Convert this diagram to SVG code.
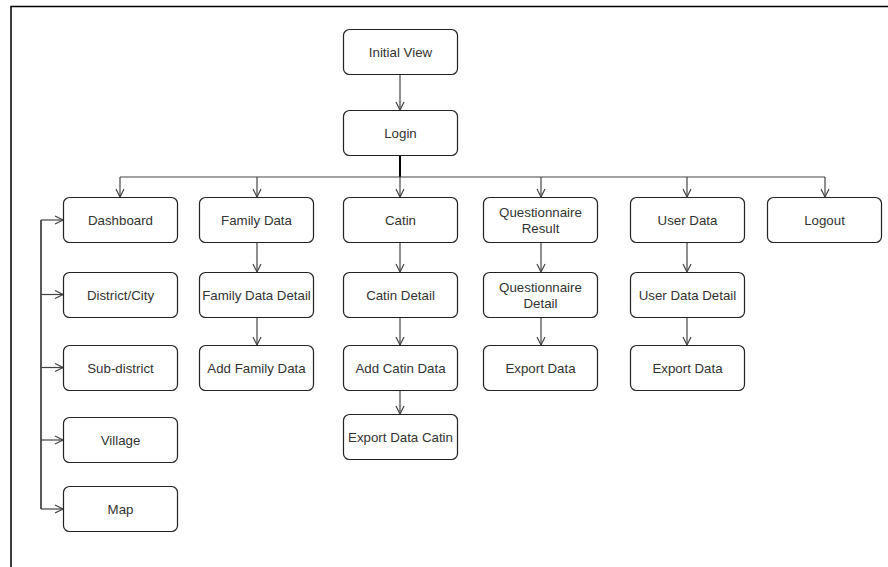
<svg xmlns="http://www.w3.org/2000/svg" width="888" height="567" viewBox="0 0 888 567">
<defs>
<marker id="open" viewBox="0 0 10 10" refX="9" refY="5" markerWidth="10" markerHeight="10" markerUnits="userSpaceOnUse" orient="auto">
<path d="M1,1 L9,5 L1,9" fill="none" stroke="#444" stroke-width="1.2"/>
</marker>
<style>
.box{fill:#fff;stroke:#222;stroke-width:1.2}
.t{font-family:"Liberation Sans",Arial,sans-serif;font-size:13.3px;fill:#333;text-anchor:middle;dominant-baseline:central}
.c{fill:none;stroke:#444;stroke-width:1.2}
.a{marker-end:url(#open)}
</style>
</defs>
<rect x="0" y="0" width="888" height="567" fill="#fff"/>
<path d="M11,567 V6.5 H888" fill="none" stroke="#000" stroke-width="1.5"/>

<g id="connectors">
<line class="c a" x1="400" y1="74" x2="400" y2="110"/>
<line x1="400" y1="156" x2="400" y2="177" stroke="#000" stroke-width="2"/>
<line class="c" x1="120" y1="177" x2="825" y2="177"/>
<line class="c a" x1="120" y1="177" x2="120" y2="197"/>
<line class="c a" x1="257" y1="177" x2="257" y2="197"/>
<line class="c a" x1="400" y1="177" x2="400" y2="197"/>
<line class="c a" x1="541" y1="177" x2="541" y2="197"/>
<line class="c a" x1="687" y1="177" x2="687" y2="197"/>
<line class="c a" x1="825" y1="177" x2="825" y2="197"/>
<line class="c a" x1="257" y1="242" x2="257" y2="272"/>
<line class="c a" x1="257" y1="317" x2="257" y2="345"/>
<line class="c a" x1="400" y1="242" x2="400" y2="272"/>
<line class="c a" x1="400" y1="317" x2="400" y2="345"/>
<line class="c a" x1="400" y1="390" x2="400" y2="414"/>
<line class="c a" x1="541" y1="242" x2="541" y2="272"/>
<line class="c a" x1="541" y1="317" x2="541" y2="345"/>
<line class="c a" x1="687" y1="242" x2="687" y2="272"/>
<line class="c a" x1="687" y1="317" x2="687" y2="345"/>
<line x1="41" y1="220" x2="41" y2="509" stroke="#222" stroke-width="1.5"/>
<line class="c a" x1="41" y1="220" x2="63" y2="220"/>
<line class="c a" x1="41" y1="294.5" x2="63" y2="294.5"/>
<line class="c a" x1="41" y1="367.5" x2="63" y2="367.5"/>
<line class="c a" x1="41" y1="440" x2="63" y2="440"/>
<line class="c a" x1="41" y1="509" x2="63" y2="509"/>
</g>

<g id="initial-view"><rect class="box" x="343.5" y="29.5" width="114" height="45" rx="6"/><text class="t" x="400.5" y="52">Initial View</text></g>
<g id="login"><rect class="box" x="343.5" y="110.5" width="114" height="45" rx="6"/><text class="t" x="400.5" y="133">Login</text></g>

<g id="dashboard"><rect class="box" x="63.5" y="197.5" width="114" height="45" rx="6"/><text class="t" x="120.5" y="220">Dashboard</text></g>
<g id="family-data"><rect class="box" x="199.5" y="197.5" width="114" height="45" rx="6"/><text class="t" x="256.5" y="220">Family Data</text></g>
<g id="catin"><rect class="box" x="343.5" y="197.5" width="114" height="45" rx="6"/><text class="t" x="400.5" y="220">Catin</text></g>
<g id="questionnaire-result"><rect class="box" x="483.5" y="197.5" width="114" height="45" rx="6"/><text class="t" x="540.5" y="212">Questionnaire</text><text class="t" x="540.5" y="228">Result</text></g>
<g id="user-data"><rect class="box" x="630.5" y="197.5" width="114" height="45" rx="6"/><text class="t" x="687.5" y="220">User Data</text></g>
<g id="logout"><rect class="box" x="767.5" y="197.5" width="114" height="45" rx="6"/><text class="t" x="824.5" y="220">Logout</text></g>

<g id="district-city"><rect class="box" x="63.5" y="272.5" width="114" height="45" rx="6"/><text class="t" x="120.5" y="295">District/City</text></g>
<g id="family-data-detail"><rect class="box" x="199.5" y="272.5" width="114" height="45" rx="6"/><text class="t" x="256.5" y="295">Family Data Detail</text></g>
<g id="catin-detail"><rect class="box" x="343.5" y="272.5" width="114" height="45" rx="6"/><text class="t" x="400.5" y="295">Catin Detail</text></g>
<g id="questionnaire-detail"><rect class="box" x="483.5" y="272.5" width="114" height="45" rx="6"/><text class="t" x="540.5" y="287">Questionnaire</text><text class="t" x="540.5" y="303">Detail</text></g>
<g id="user-data-detail"><rect class="box" x="630.5" y="272.5" width="114" height="45" rx="6"/><text class="t" x="687.5" y="295">User Data Detail</text></g>

<g id="sub-district"><rect class="box" x="63.5" y="345.5" width="114" height="45" rx="6"/><text class="t" x="120.5" y="368">Sub-district</text></g>
<g id="add-family-data"><rect class="box" x="199.5" y="345.5" width="114" height="45" rx="6"/><text class="t" x="256.5" y="368">Add Family Data</text></g>
<g id="add-catin-data"><rect class="box" x="343.5" y="345.5" width="114" height="45" rx="6"/><text class="t" x="400.5" y="368">Add Catin Data</text></g>
<g id="export-data-q"><rect class="box" x="483.5" y="345.5" width="114" height="45" rx="6"/><text class="t" x="540.5" y="368">Export Data</text></g>
<g id="export-data-u"><rect class="box" x="630.5" y="345.5" width="114" height="45" rx="6"/><text class="t" x="687.5" y="368">Export Data</text></g>

<g id="village"><rect class="box" x="63.5" y="417.5" width="114" height="45" rx="6"/><text class="t" x="120.5" y="440">Village</text></g>
<g id="export-data-catin"><rect class="box" x="343.5" y="414.5" width="114" height="45" rx="6"/><text class="t" x="400.5" y="437">Export Data Catin</text></g>
<g id="map"><rect class="box" x="63.5" y="486.5" width="114" height="45" rx="6"/><text class="t" x="120.5" y="509">Map</text></g>
</svg>
